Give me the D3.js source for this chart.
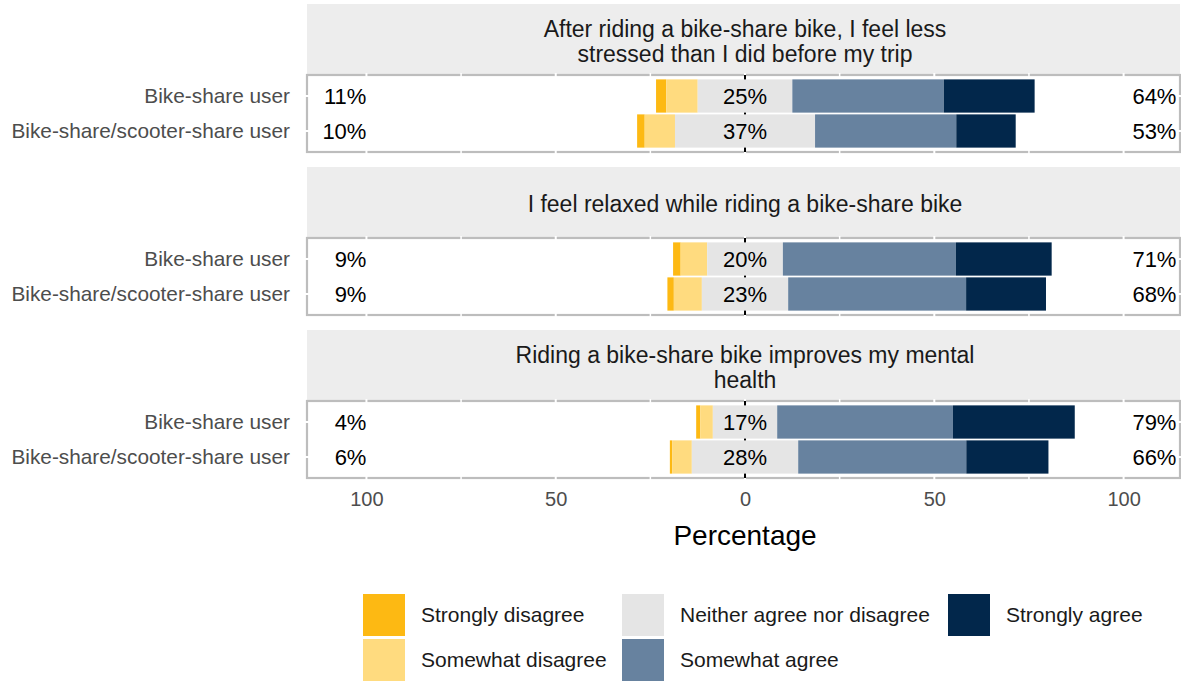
<!DOCTYPE html>
<html>
<head>
<meta charset="utf-8">
<script src="https://cdn.jsdelivr.net/npm/d3@7"></script>
<style>
  html, body { margin: 0; padding: 0; background: #ffffff; }
  svg text { font-family: "Liberation Sans", Arial, Helvetica, sans-serif; }
</style>
</head>
<body>
<svg id="chart" width="1181" height="683"></svg>
<script>
// ---------------- data ----------------
const questions = [
  "After riding a bike-share bike, I feel less\nstressed than I did before my trip",
  "I feel relaxed while riding a bike-share bike",
  "Riding a bike-share bike improves my mental\nhealth"
];
const groups = ["Bike-share user", "Bike-share/scooter-share user"];
const levels = ["Strongly disagree", "Somewhat disagree", "Neither agree nor disagree", "Somewhat agree", "Strongly agree"];
const levelColors = ["#FDB913", "#FFDB7F", "#E5E5E5", "#67829F", "#02274B"];
// percentages per question, per group, in the order of `levels`
const stressedValues = [[2.7, 8.3, 25, 40, 24], [2, 8, 37, 37.3, 15.7]];
const relaxedValues  = [[2, 7, 20, 45.7, 25.3], [1.7, 7.4, 22.8, 47, 21.1]];
const mentalValues   = [[1.1, 3.3, 17, 46.4, 32.2], [0.6, 5.2, 28.1, 44.4, 21.7]];
const xTicks = [-100, -50, 0, 50, 100];
const xMinorTicks = [-75, -25, 25, 75];

const facetValues = [stressedValues, relaxedValues, mentalValues];

// ---------------- layout ----------------
const svg = d3.select("#chart");
const panelLeft = 307, panelRight = 1180;
const stripH = 71, panelH = 77;
const facetTops = [4, 167, 330];

const x = d3.scaleLinear().domain([-115.7, 114.9]).range([panelLeft, panelRight]);
const color = d3.scaleOrdinal().domain(levels).range(levelColors);

facetValues.forEach((vals, fi) => {
  const top = facetTops[fi];
  const pTop = top + stripH;
  const g = svg.append("g");

  // strip
  g.append("rect")
    .attr("x", panelLeft).attr("y", top)
    .attr("width", panelRight - panelLeft).attr("height", stripH)
    .attr("fill", "#EDEDED");
  const lines = questions[fi].split("\n");
  const lh = 25;
  const cy = top + stripH / 2 + 1.5;
  lines.forEach((ln, li) => {
    g.append("text")
      .attr("x", x(0))
      .attr("y", cy + (li - (lines.length - 1) / 2) * lh)
      .attr("dy", "0.35em")
      .attr("text-anchor", "middle")
      .attr("font-size", 23)
      .attr("fill", "#1a1a1a")
      .text(ln);
  });

  // panel background + border
  g.append("rect")
    .attr("x", panelLeft).attr("y", pTop)
    .attr("width", panelRight - panelLeft).attr("height", panelH)
    .attr("fill", "#ffffff").attr("stroke", "#BDBDBD").attr("stroke-width", 2.2);

  const y = d3.scalePoint().domain(groups).range([pTop, pTop + panelH]).padding(0.6);
  const step = y.step();
  const barH = step * 0.95;

  // white grid lines (visible where they cross the border)
  g.selectAll(".vgrid").data(xTicks.concat(xMinorTicks)).enter().append("line")
    .attr("x1", d => x(d)).attr("x2", d => x(d))
    .attr("y1", pTop - 2).attr("y2", pTop + panelH + 2)
    .attr("stroke", "#ffffff").attr("stroke-width", d => xTicks.includes(d) ? 2 : 1.5);
  g.selectAll(".hgrid").data(groups).enter().append("line")
    .attr("x1", panelLeft - 2).attr("x2", panelRight + 2)
    .attr("y1", d => y(d)).attr("y2", d => y(d))
    .attr("stroke", "#ffffff").attr("stroke-width", 2);

  // zero dashed line
  g.append("line")
    .attr("x1", x(0)).attr("x2", x(0))
    .attr("y1", pTop).attr("y2", pTop + panelH)
    .attr("stroke", "#000000").attr("stroke-width", 2)
    .attr("stroke-dasharray", "5,4");

  // bars
  groups.forEach((grp, gi) => {
    const v = vals[gi];
    const half = v[2] / 2;
    const starts = [-(half + v[1] + v[0]), -(half + v[1]), -half, half, half + v[3]];
    const segs = levels.map((lv, li) => ({ lv, x0: starts[li], x1: starts[li] + v[li] }));
    g.selectAll(".bar" + gi).data(segs).enter().append("rect")
      .attr("x", d => x(d.x0))
      .attr("width", d => Math.max(0, x(d.x1) - x(d.x0)))
      .attr("y", y(grp) - barH / 2)
      .attr("height", barH)
      .attr("fill", d => color(d.lv));

    const low = Math.round(v[0] + v[1]);
    const neu = Math.round(v[2]);
    const high = Math.round(v[3] + v[4]);
    g.append("text")
      .attr("x", x(-100)).attr("y", y(grp)).attr("dy", "0.35em")
      .attr("text-anchor", "end").attr("font-size", 22).attr("fill", "#000")
      .text(low + "%");
    g.append("text")
      .attr("x", x(0)).attr("y", y(grp)).attr("dy", "0.35em")
      .attr("text-anchor", "middle").attr("font-size", 22).attr("fill", "#000")
      .text(neu + "%");
    const ht = g.append("text")
      .attr("y", y(grp)).attr("dy", "0.35em")
      .attr("text-anchor", "start").attr("font-size", 22).attr("fill", "#000")
      .text(high + "%");
    const w = ht.node().getComputedTextLength();
    ht.attr("x", x(100) + 0.2 * w);

    // y axis label
    g.append("text")
      .attr("x", panelLeft - 17).attr("y", y(grp)).attr("dy", "0.35em")
      .attr("text-anchor", "end").attr("font-size", 20.8).attr("fill", "#4D4D4D")
      .text(grp);
  });
});

// x axis
const lastBottom = facetTops[2] + stripH + panelH;
const xAxis = d3.axisBottom(x).tickValues(xTicks).tickFormat(d => Math.abs(d)).tickSize(0).tickPadding(14);
const ax = svg.append("g").attr("transform", `translate(0,${lastBottom})`).call(xAxis);
ax.select(".domain").remove();
ax.selectAll("text").attr("font-size", 20).attr("fill", "#4D4D4D")
  .attr("font-family", "Liberation Sans, Arial, sans-serif");

svg.append("text")
  .attr("x", x(0)).attr("y", 535).attr("dy", "0.35em")
  .attr("text-anchor", "middle").attr("font-size", 28).attr("fill", "#000")
  .text("Percentage");

// legend (3 columns, filled by column, 2 rows)
const legColX = [363, 622, 948];
const legRowY = [594, 639];
const keyW = 42, keyH = 42;
const leg = svg.append("g");
levels.forEach((lv, i) => {
  const col = Math.floor(i / 2), row = i % 2;
  leg.append("rect")
    .attr("x", legColX[col]).attr("y", legRowY[row])
    .attr("width", keyW).attr("height", keyH)
    .attr("fill", color(lv));
  leg.append("text")
    .attr("x", legColX[col] + keyW + 16).attr("y", legRowY[row] + keyH / 2).attr("dy", "0.35em")
    .attr("font-size", 21).attr("fill", "#1a1a1a")
    .text(lv);
});
</script>
</body>
</html>
